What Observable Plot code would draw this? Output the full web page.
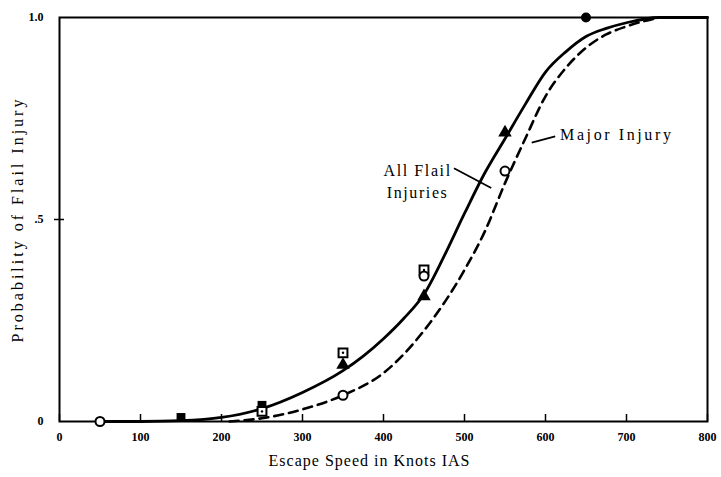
<!DOCTYPE html>
<html>
<head>
<meta charset="utf-8">
<script src="https://cdn.jsdelivr.net/npm/d3@7"></script>
<script src="https://cdn.jsdelivr.net/npm/@observablehq/plot@0.6"></script>
<style>
  html, body { margin: 0; padding: 0; background: #fff; }
  svg { display: block; }
</style>
</head>
<body>
<div id="chart"></div>
<script>
// Curves
const allFlailSpeed = [50, 100, 150, 200, 250, 300, 350, 375, 400, 425, 450, 475, 500, 525, 550, 575, 600, 625, 650, 675, 700, 740, 800];
const allFlailProb  = [0, 0, 0.002, 0.01, 0.032, 0.072, 0.126, 0.162, 0.205, 0.255, 0.315, 0.41, 0.515, 0.615, 0.70, 0.785, 0.865, 0.915, 0.953, 0.973, 0.987, 1.0, 1.0];
const majorSpeed = [210, 250, 300, 350, 400, 450, 500, 525, 550, 575, 600, 625, 650, 675, 700, 740];
const majorProb  = [0, 0.008, 0.03, 0.065, 0.12, 0.225, 0.375, 0.47, 0.59, 0.70, 0.805, 0.875, 0.925, 0.958, 0.978, 1.0];

// Observed points
const triSpeed = [350, 450, 550];
const triProb  = [0.14, 0.31, 0.715];
const sqSpeed = [250, 350, 450];
const sqProb  = [0.025, 0.17, 0.375];
const filledSqSpeed = [150, 250];
const filledSqProb  = [0.01, 0.04];
const circSpeed = [50, 350, 450, 550];
const circProb  = [0, 0.065, 0.36, 0.62];
const filledCircSpeed = [650];
const filledCircProb  = [1.0];

// Axis ticks
const xTicks = [0, 100, 200, 300, 400, 500, 600, 700, 800];
const yTicks = [0, 0.5, 1];
const yTickLabels = ["0", ".5", "1.0"];

// Annotations
const labelText = ["All Flail", "Injuries", "Major Injury"];
const labelX = [400, 404, 618];
const labelY = [0.62, 0.565, 0.71];
const leaderX1 = [487, 583];
const leaderY1 = [0.627, 0.69];
const leaderX2 = [533, 612];
const leaderY2 = [0.578, 0.706];

const xTitle = "Escape Speed in Knots IAS";
const yTitle = "Probability of Flail Injury";

const solid = allFlailSpeed.map((x, i) => ({x, y: allFlailProb[i]}));
const dashed = majorSpeed.map((x, i) => ({x, y: majorProb[i]}));
const tri = triSpeed.map((x, i) => ({x, y: triProb[i]}));
const sq = sqSpeed.map((x, i) => ({x, y: sqProb[i]}));
const fsq = filledSqSpeed.map((x, i) => ({x, y: filledSqProb[i]}));
const circ = circSpeed.map((x, i) => ({x, y: circProb[i]}));
const fcirc = filledCircSpeed.map((x, i) => ({x, y: filledCircProb[i]}));
const labels = labelText.map((t, i) => ({t, x: labelX[i], y: labelY[i]}));
const leaders = leaderX1.map((x1, i) => ({x1, y1: leaderY1[i], x2: leaderX2[i], y2: leaderY2[i]}));

const serif = "'Liberation Serif', 'DejaVu Serif', serif";

const chart = Plot.plot({
  width: 721,
  height: 477,
  marginLeft: 59,
  marginRight: 14,
  marginTop: 17,
  marginBottom: 56,
  style: {fontFamily: serif, background: "#fff", color: "#000"},
  x: {domain: [0, 800]},
  y: {domain: [0, 1]},
  marks: [
    Plot.frame({stroke: "#000", strokeWidth: 2}),
    Plot.axisX(xTicks, {tickSize: 7, dy: -7, text: null, strokeWidth: 1.5, label: null}),
    Plot.axisX(xTicks, {tickSize: 0, tickPadding: 11, fontSize: 12, fontWeight: "bold", label: null, tickFormat: d => String(d)}),
    Plot.axisY([0.5], {tickSize: 10, dx: 5, text: null, strokeWidth: 1.5, label: null}),
    Plot.axisY(yTicks, {tickSize: 0, tickPadding: 16, fontSize: 12, fontWeight: "bold", label: null,
      tickFormat: d => yTickLabels[yTicks.indexOf(d)]}),
    Plot.line(solid, {x: "x", y: "y", stroke: "#000", strokeWidth: 2.8, curve: "monotone-x"}),
    Plot.line(dashed, {x: "x", y: "y", stroke: "#000", strokeWidth: 2.6, strokeDasharray: "9,6", curve: "monotone-x"}),
    Plot.link(leaders, {x1: "x1", y1: "y1", x2: "x2", y2: "y2", stroke: "#000", strokeWidth: 1.8}),
    Plot.dot(fsq, {x: "x", y: "y", symbol: "square", r: 5, fill: "#000"}),
    Plot.dot(sq, {x: "x", y: "y", symbol: "square", r: 5, fill: "#fff", stroke: "#000", strokeWidth: 2}),
    Plot.dot(sq, {x: "x", y: "y", r: 1.2, fill: "#000"}),
    Plot.dot(tri, {x: "x", y: "y", symbol: "triangle", r: 5, fill: "#000"}),
    Plot.dot(circ, {x: "x", y: "y", symbol: "circle", r: 4.5, fill: "#fff", stroke: "#000", strokeWidth: 2}),
    Plot.dot(fcirc, {x: "x", y: "y", symbol: "circle", r: 5, fill: "#000"}),
    Plot.text(labels, {x: "x", y: "y", text: "t", textAnchor: "start", fontSize: 16, fill: "#000"}),
    Plot.text([xTitle], {frameAnchor: "bottom", textAnchor: "middle", dx: -14, dy: 44, fontSize: 16, fill: "#000"}),
    Plot.text([yTitle], {frameAnchor: "left", textAnchor: "middle", dx: -42, rotate: -90, fontSize: 16, fill: "#000"})
  ]
});
const svgSel = d3.select(chart);
svgSel.selectAll("text").filter(function () { return this.textContent === "All Flail" || this.textContent === "Injuries"; }).style("letter-spacing", "1.6px");
svgSel.selectAll("text").filter(function () { return this.textContent === "Major Injury"; }).style("letter-spacing", "2.6px");
svgSel.selectAll("text").filter(function () { return this.textContent === xTitle; }).style("letter-spacing", "1px");
svgSel.selectAll("text").filter(function () { return this.textContent === yTitle; }).style("letter-spacing", "3px");
document.getElementById("chart").appendChild(chart);
</script>
</body>
</html>
